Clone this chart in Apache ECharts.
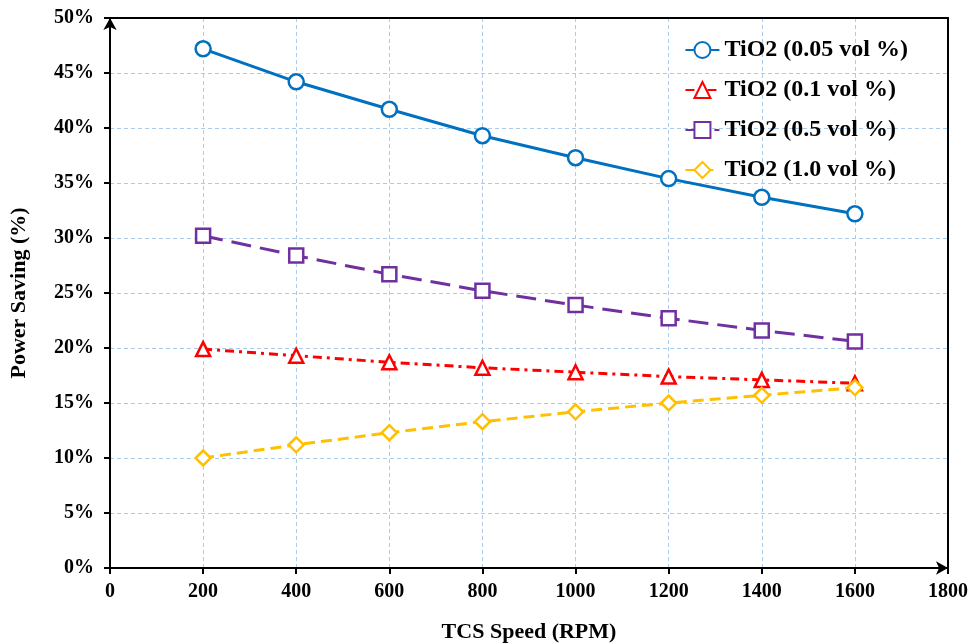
<!DOCTYPE html>
<html><head><meta charset="utf-8">
<script src="https://cdn.jsdelivr.net/npm/echarts@6/dist/echarts.min.js"></script>
<style>html,body{margin:0;padding:0;background:#fff}#c{width:971px;height:644px}</style>
</head><body><div id="c"></div>
<script>
const speeds = [200, 400, 600, 800, 1000, 1200, 1400, 1600];
const tio2_005 = [47.2, 44.2, 41.7, 39.3, 37.3, 35.4, 33.7, 32.2];
const tio2_01 = [19.9, 19.3, 18.7, 18.2, 17.8, 17.4, 17.1, 16.8];
const tio2_05 = [30.2, 28.4, 26.7, 25.2, 23.9, 22.7, 21.6, 20.6];
const tio2_10 = [10.0, 11.2, 12.3, 13.3, 14.2, 15.0, 15.7, 16.4];
const seriesNames = ['TiO2 (0.05 vol %)', 'TiO2 (0.1 vol %)', 'TiO2 (0.5 vol %)', 'TiO2 (1.0 vol %)'];

const font = 'Liberation Serif, Times New Roman, serif';
const chart = echarts.init(document.getElementById('c'));
function pts(arr){ return speeds.map((s,i)=>[s, arr[i]]); }
function mk(name, data, color, symbol, dash, size){
  return {
    name, type:'line', data: pts(data), symbol, symbolSize:size, xAxisIndex:0, yAxisIndex:0,
    lineStyle:{color, width:3, type:dash},
    itemStyle:{color:'#fff', borderColor:color, borderWidth:2.5},
    emphasis:{disabled:true}
  };
}
const gridLine = {show:true, lineStyle:{color:'#A9CCEA', type:[4,3], width:1}};
chart.setOption({
  animation:false,
  backgroundColor:'#fff',
  grid:{left:110, right:23, top:18, bottom:76, outerBoundsMode:'none', containLabel:false},
  legend:{
    orient:'vertical', right:58, top:33, itemGap:16, itemWidth:34, itemHeight:20,
    textStyle:{fontFamily:font, fontWeight:'bold', fontSize:24, color:'#000'},
    data: seriesNames
  },
  xAxis:[{
    type:'value', min:0, max:1800, interval:200,
    name:'TCS Speed (RPM)', nameLocation:'middle', nameGap:53,
    nameTextStyle:{fontFamily:font, fontWeight:'bold', fontSize:22, color:'#000'},
    axisLine:{show:true, onZero:false, lineStyle:{color:'#000', width:2}, symbol:['none','arrow'], symbolSize:[10,12]},
    axisTick:{show:true, length:6, lineStyle:{color:'#000', width:2}},
    axisLabel:{fontFamily:font, fontWeight:'bold', fontSize:20, color:'#000', margin:14, formatter:v=>String(v)},
    splitLine:gridLine
  },{
    type:'value', min:0, max:1800, position:'top',
    axisLine:{show:true, onZero:false, lineStyle:{color:'#000', width:2}},
    axisTick:{show:false}, axisLabel:{show:false}, splitLine:{show:false}
  }],
  yAxis:[{
    type:'value', min:0, max:50, interval:5,
    name:'Power Saving (%)', nameLocation:'middle', nameGap:80,
    nameTextStyle:{fontFamily:font, fontWeight:'bold', fontSize:22, color:'#000'},
    axisLine:{show:true, onZero:false, lineStyle:{color:'#000', width:2}, symbol:['none','arrow'], symbolSize:[10,12]},
    axisTick:{show:true, length:6, lineStyle:{color:'#000', width:2}},
    axisLabel:{fontFamily:font, fontWeight:'bold', fontSize:20, color:'#000', formatter:'{value}%', margin:16},
    splitLine:gridLine
  },{
    type:'value', min:0, max:50, position:'right',
    axisLine:{show:true, onZero:false, lineStyle:{color:'#000', width:2}},
    axisTick:{show:false}, axisLabel:{show:false}, splitLine:{show:false}
  }],
  series:[
    mk(seriesNames[0], tio2_005, '#0070C0', 'circle', 'solid', 15),
    mk(seriesNames[1], tio2_01, '#FF0000', 'triangle', [9,5,3,5], 14),
    mk(seriesNames[2], tio2_05, '#7030A0', 'rect', [20,9], 14),
    mk(seriesNames[3], tio2_10, '#FFC000', 'diamond', [11,6], 15)
  ]
});
</script></body></html>
